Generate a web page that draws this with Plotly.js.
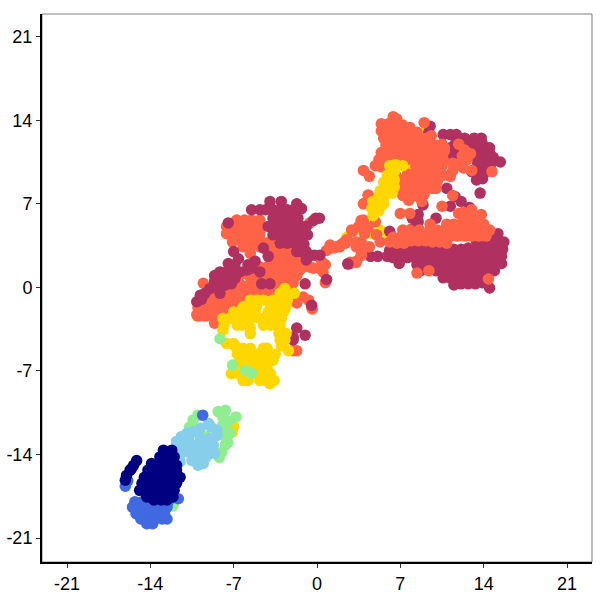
<!DOCTYPE html>
<html>
<head>
<meta charset="utf-8">
<script src="https://cdn.plot.ly/plotly-3.0.1.min.js"></script>
<style>html,body{margin:0;padding:0;background:#fff}#chart{width:600px;height:600px}</style>
</head>
<body>
<div id="chart"></div>
<script>
const tickVals = [-21, -14, -7, 0, 7, 14, 21];

// values, [x, y]
const goldBack = [
  [8.9,12.9],[9.6,11.7],[3.6,4.9],[2.5,4.2],[4.6,4.5],[5.3,4.8],[6,4.4],[7.8,10.2]
];

const maroonBack = [
  [13.2,12.5],[13.8,12.5],[12.4,12.5],[12.7,12],[13.3,12],[13.9,12],[14.5,11.7],[13.2,11.4],[13.8,11.4],[14.5,11.2],
  [13.2,11],[13.8,11],[14.4,11],[14.8,10.9],[13.5,10.4],[14,10.4],[14.6,10.4],[15.4,10.5],[13,9.7],[13.6,9.7],[14.2,9.7],[14.6,9.9],
  [13.4,9],[13.9,9.1],[10.6,12.8],[11.2,12.8],[11.7,12.8],[11.6,12],[11.7,11.2],[11.7,10.5],[11.2,11.7],[10.9,11],[9.5,13.5],[9.4,13],
  [14.6,4.5],[15.2,4.5],[13.4,3.9],[14,3.9],[14.6,3.9],[15.2,3.9],[15.7,3.8],
  [8,3.5],[8.6,3.6],[9.2,3.6],[9.8,3.5],[10.3,3.5],
  [6.1,3.1],[6.7,3.1],[7.3,3],[7.9,3],[8.5,3],[9.1,3],[9.7,3],[10.3,3],[10.9,3.1],[11.5,3.2],[12.1,3.2],[12.7,3.3],[13.3,3.3],[13.9,3.3],[14.5,3.3],[15.1,3.3],[15.6,3.2],
  [4.5,2.6],[5.1,2.6],[5.9,2.6],[6.4,2.5],[7,2.5],[7.6,2.5],[8.2,2.5],[8.8,2.5],[9.4,2.5],[10,2.5],[10.6,2.5],[11.2,2.6],[11.8,2.6],[12.4,2.6],[13,2.6],[13.6,2.6],[14.2,2.6],[14.8,2.6],[15.5,2.6],
  [6.9,2],[8.4,1.9],[9.2,1.9],[9.6,2],[10.2,2],[10.8,2],[11.4,2],[12,2],[12.6,2],[13.2,2],[13.8,2],[14.4,2],[15,2],[15.5,2],
  [8.7,1.4],[10,1.4],[10.6,1.4],[11.2,1.4],[11.8,1.4],[12.4,1.4],[13,1.4],[13.6,1.4],[14.2,1.4],[14.9,1.4],
  [10.6,0.8],[11.2,0.8],[11.8,0.8],[12.4,0.8],[13,0.8],[13.6,0.8],[14.2,0.9],
  [11.5,0.2],[12.1,0.3],[12.7,0.3],[13.3,0.3],[13.9,0.4],[14.5,-0.05],[2.6,2],
  [13.7,7.9],[10.9,8.3],[11.6,7.6],[12.1,7.2],[11.2,6.8],[8.9,6.9],[12.8,6.7],[8.5,6.1],[8,5.8],[10,5.8],[8.5,5.5],[8,4.9],[6.1,4.7],[6.6,4.1]
];

const coralPts = [
  [6.4,14.3],[6.7,14.1],[5.4,13.7],[6,13.7],[6.6,13.7],[7.2,13.6],[7.8,13.4],[9,13.8],
  [5.4,13.1],[6,13.1],[6.6,13.1],[7.2,13.1],[7.8,13],[8.4,13],[5.6,12.5],[6.2,12.5],[6.8,12.5],[7.4,12.5],[8,12.5],[8.6,12.5],[9.2,12.5],[9.6,12.7],
  [5.8,11.9],[6.4,11.9],[7,11.9],[7.6,11.9],[8.2,11.9],[8.8,11.9],[9.4,11.9],[10,11.9],[10.5,12],[10.7,11.7],
  [5.4,11.3],[6,11.3],[6.6,11.3],[7.2,11.3],[7.8,11.3],[8.4,11.3],[9,11.3],[9.6,11.3],[10.2,11.3],[10.7,11.4],
  [5.2,10.7],[5.8,10.7],[6.4,10.7],[7,10.7],[7.6,10.7],[8.2,10.7],[8.8,10.7],[9.4,10.7],[10,10.7],[10.6,10.7],
  [4.9,10.2],[5.4,10.1],[6,10.1],[8.3,10.1],[8.9,10.1],[9.5,10.1],[10.1,10.1],[10.5,10.2],[6.6,9.4],
  [7.6,9.5],[8.2,9.5],[8.8,9.5],[9.4,9.5],[10,9.5],[7,9],[7.6,8.9],[8.5,8.9],[9.1,8.9],[9.7,8.9],[10.1,8.9],
  [7.1,8.3],[7.9,8.3],[8.5,8.3],[9.1,8.3],[9.7,8.3],[10,8.3],[7.2,7.7],[7.6,7.7],[8.3,7.8],[9,7.8],
  [12.4,11.5],[12.9,11.2],[12.2,11],[12.6,10.7],[12,10.4],[11.4,9.8],[12.3,10],[13,9.8],[14.7,9.7],[11.2,9.3],[10.6,9.4],[11.4,10.4],[11.9,12],
  [3.9,9.8],[4.4,9.3],[4.3,7.7],[3.9,7],[4.3,7],[7,6.2],[7.8,6.2],[10.5,6.8],[8.5,7.6],[8.2,7.9],[8.8,7.2],[11.4,7.7],[11.9,6.2],[12.3,6.3],[13,6.5],[13.8,6.1],[7.7,7.3],
  [6.1,3.8],[6.7,3.7],[7.3,3.7],[7.9,3.9],[8.5,3.9],[9.1,3.9],[9.7,3.8],[10.3,3.8],[10.9,3.7],
  [6.4,4.2],[7,4.2],[7.6,4.3],[8.2,4.3],[8.8,4.3],[9.4,4.3],[10,4.3],[10.6,4.3],[11.2,4.3],[11.8,4.3],[12.4,4.3],[13,4.3],[13.6,4.3],[14.2,4.3],
  [7.2,4.8],[7.8,4.8],[8.6,4.8],[9.5,4.8],[10.1,4.8],[10.7,4.8],[11.3,4.8],[11.9,4.8],[12.5,4.8],[13.1,4.8],[13.7,4.8],[14.5,4.8],
  [9.5,5.3],[10.9,5.3],[11.5,5.3],[12.1,5.3],[12.7,5.3],[13.3,5.3],[14,5.3],[12.3,5.9],[12.8,5.9],[13.1,5.9],
  [8.4,1.2],[9.4,1.4],[14.4,0.7],[2.8,2],[3.3,2.1],[3.7,2.7],[3.5,3.4],[2.5,3.9],[3,4.7],[3.7,5.6],[4,4.5],[5,4.4],[4.9,5.5],[4.3,5],[2.4,3.7],[1.9,3.4],[4.4,3.4],[5.3,3.8],
  [4,7.05],[4.3,7.75],[3.9,5.65],[3.5,5.1],[2.9,4.8],[3.3,3.8],[3.7,3.8],[4,3.4],[3.3,3.4],[3.75,2.7],[2.8,2.1],[3.2,2.15],
  [1.1,3.55],[1.65,3.4],[2.2,3.7],[2.5,4],[1.4,3.3],[1.9,3.5],[2.3,3.8],[0.8,3.1],[0.4,2.15],[-0.3,1.6],[0.3,1.6],
  [-6.75,5.65],[-6.1,5.65],[-5.5,5.65],[-4.8,5.65],[-7.6,5.1],[-7,5.1],[-6.4,5.1],[-5.8,5.1],[-5.2,5.1],[-4.8,5.1],
  [-7.6,4.5],[-7,4.5],[-6.4,4.5],[-5.8,4.5],[-5.2,4.5],[-4.8,4.5],[-7.1,3.8],[-6.4,4],[-5.8,4],[-5.2,4],[-4.8,4],[-6.2,3.4],[-5.6,3.4],[-4.8,3.4],[-5.6,2.85],
  [-4,3.8],[-2.3,3.8],[-4.2,3.1],[-3.6,3.1],[-3,3.1],[-2.4,3.1],[-1.7,3.1],[-3.6,2.8],[-3,2.8],[-2.4,2.8],[-1.8,2.8],
  [-3.7,2.4],[-3.1,2.4],[-2.5,2.4],[-1.9,2.4],[-1.3,2.4],[-0.8,2.4],[-3.9,2],[-3.3,2],[-2.7,2],[-2.1,2],[-1.5,2],[-0.9,2],
  [-4.8,1.7],[-4.2,1.7],[-3.6,1.7],[-3,1.7],[-2.4,1.7],[-1.8,1.7],[-1.2,1.7],[-0.6,1.7],[0.7,1.9],[0.5,1.3],
  [-4.5,1.4],[-3.9,1.4],[-3.3,1.4],[-2.7,1.4],[-2.1,1.4],[-1.5,1.4],
  [-5,1],[-4.4,1],[-3.8,1],[-3.2,1],[-2.6,1],[-2,1],[-1.7,1],[-6.4,1.1],[-5.7,1],[-3,0.7],[-2.4,0.7],
  [-5.6,0.35],[-4.8,0.35],[-3.4,0.4],[-2.8,0.4],[-2,0.4],[-6.5,0.3],[-9.55,0.35],[-6,0],[-5,0],[-4.2,0],[-3.6,0],[-2.8,0],[-2.2,0],
  [-8.7,-0.3],[-7,-0.3],[-6.4,-0.3],[-5.8,-0.3],[-5.2,-0.3],[-4.6,-0.3],[-4,-0.3],[-3.4,-0.3],[-8.1,-0.4],[-7.5,-0.4],[-6.6,-0.7],[-6,-0.7],
  [-9.3,-1],[-8.7,-1],[-7.5,-1],[-6.9,-1],[-6.3,-1],[-5.7,-1],[-8.1,-1],
  [-9.6,-1.3],[-9,-1.3],[-8.4,-1.3],[-7.8,-1.3],[-7.2,-1.3],[-6.6,-1.3],
  [-10,-1.7],[-9.4,-1.7],[-8.8,-1.7],[-8.2,-1.7],[-7.6,-1.7],[-7,-1.7],[-9.7,-2],[-9.1,-2],[-8.5,-2],[-7.9,-2],[-7.3,-2.1],
  [-10,-2.4],[-9.4,-2.4],[-8.8,-2.4],[-8.2,-2.4],[-7.8,-2.4],[-10.1,-2.3],[-8.6,-3],
  [-1.7,-0.93],[-1.15,-0.8],[-1.7,-1.3],[-0.7,-1.07],[-0.45,-1.63],[-0.4,-1.8],[-2,-5.3],[-1.7,-5.3],[0.7,0.4],[-0.6,5.4]
];

const maroonFront = [
  [-3.95,7.2],[-3,7.2],[-1.7,7],[-1.3,6.6],[-5.5,6.5],[-4.8,6.5],[-4.3,6.5],[-3.7,6.5],[-3.1,6.5],[-2.5,6.5],[-2,6.5],
  [-3.7,5.8],[-3.1,5.8],[-2.5,5.8],[-1.9,5.8],[-1.6,5.8],[-0.1,5.8],[-0.3,5.6],[0.2,5.8],
  [-4.1,5.1],[-3.7,5.1],[-3.1,5.1],[-2.5,5.1],[-1.9,5.1],[-1.3,5.1],[-0.9,5.1],
  [-3.7,4.4],[-3.1,4.4],[-2.5,4.4],[-1.9,4.4],[-1.3,4.4],[-0.8,4.4],[-3.1,3.7],[-2.5,3.7],[-1.9,3.7],[-1.3,3.7],[-1.1,3.6],
  [-1.7,3],[-1.3,3],[-0.9,3],[-4.5,3.3],[-4.1,2.6],[-7.45,5.4],
  [0.25,2.7],[-0.2,2.7],[-0.9,2.3],[0.8,0.67],[2.6,1.95],
  [-7,3],[-6.6,2.4],[-7.45,2],[-6.9,1.9],[-5.8,1.9],[-5.2,2.2],[-8.15,1.3],[-7.6,1.3],[-7,1.3],[-5.9,1.45],[-5.5,1.6],[-7.7,0.9],[-6.5,1.3],[-7.3,1.8],
  [-8.6,1],[-8,0.75],[-7.45,0.75],[-6.9,0.75],[-4.8,1.3],[-8.3,0.2],[-7.7,0.2],[-7.2,0.3],[-9,-0.1],[-8.15,-0.5],[-8.6,0.5],[-9.4,-0.5],
  [-9.8,-0.65],[-10.1,-1.2],[-9.7,-1],[-4.65,0.3],[-3.95,0.3],[-1,0.3],[-0.45,-1.5],[-1.7,-3.4],[-1,-4],[-2,-4.15],[-2,-4.4]
];

const goldPts = [
  [6.1,10.2],[6.6,10.3],[7.2,10.2],[6.5,9.7],[5.9,9.4],[6.5,9],[5.6,8.8],[6.1,8.6],[6.5,8.4],[5.3,8.1],[5.9,8],[6.3,7.9],[5.2,7.6],
  [5.6,7.5],[4.7,7.2],[5.2,7],[5.6,7],[4.6,6.6],[5.2,6.4],[4.7,6],
  [-2.7,-0.1],[-3.1,-0.5],[-2.5,-0.5],[-1.9,-0.5],
  [-5.6,-1.07],[-5,-1.07],[-4.5,-1.07],[-3.7,-1.07],[-3.1,-1.07],[-2.5,-1.07],
  [-6.2,-1.63],[-5.6,-1.63],[-5.1,-1.63],[-3.9,-1.63],[-3.3,-1.63],[-2.6,-1.63],
  [-7,-2.05],[-6.4,-2.05],[-5.8,-2.05],[-5.2,-2.05],[-4.1,-2.05],[-3.5,-2.05],[-2.8,-2.05],
  [-7.9,-2.6],[-7.3,-2.6],[-6.7,-2.6],[-6.1,-2.6],[-5.5,-2.6],[-4.8,-2.6],[-4.4,-2.6],[-3.8,-2.6],[-3,-2.6],
  [-7.8,-3.17],[-6.7,-3.17],[-6.3,-3.17],[-4.5,-3.17],[-3.9,-3.17],[-3.3,-3.17],[-3.1,-3.2],
  [-5.6,-3.87],[-5.6,-3.4],[-3.2,-3.87],[-2.6,-3.87],[-3.1,-4.43],[-2.7,-4.43],[-7.9,-3.6],
  [-7.6,-4.7],[-7,-4.7],[-6.9,-4.9],[-6.2,-5.1],[-5.6,-5.1],[-4.5,-5.1],[-4.2,-5.1],[-3,-4.9],[-2.4,-5.3],
  [-6.7,-5.55],[-6.1,-5.55],[-5.5,-5.55],[-4.9,-5.55],[-4.3,-5.55],[-3.9,-5.55],[-3.5,-5.6],
  [-6.5,-6.1],[-5.9,-6.1],[-5.3,-6.1],[-4.7,-6.1],[-4.1,-6.1],[-3.7,-6.1],
  [-6.2,-6.67],[-5.6,-6.67],[-5,-6.67],[-4.4,-6.67],[-4.2,-6.67],
  [-7.2,-7.23],[-6.6,-7.23],[-5.5,-7.23],[-4.9,-7.23],[-4.3,-7.23],[-3.9,-7.23],
  [-6.2,-7.8],[-5.8,-7.8],[-4.8,-7.8],[-4.3,-7.8],[-3.9,-7.8],[-3.6,-7.8],[-3.95,-8.07],
  [-7,-11.65],[-7.1,-12.1]
];

const greenPts = [
  [-8.15,-4.3],[-7.1,-6.5],[-6,-6.95],[-5.5,-7.2],[-12.1,-18.3],[-8,-10.55],[-7.9,-10.9],[-8.3,-10.4],[-7.7,-10.3],[-6.8,-10.85],[-10,-10.7],[-10.4,-11.1],[-10.7,-11.7],
  [-7.9,-11.5],[-7.4,-11.2],[-7.7,-12.1],[-7.3,-12.2],[-7.6,-12.65],[-7.7,-13.2],[-7.5,-13],[-8,-13.8],[-8.2,-14.25],[-9.3,-12.5]
];

const skyPts = [
  [-9.1,-11.4],[-9.8,-11.8],[-10.4,-12.1],[-8.4,-11.95],[-11.4,-12.5],[-10.8,-12.65],[-11.5,-13.1],[-11,-13.2],[-10.4,-13.2],[-9.8,-13.2],[-9.3,-13.2],[-8.7,-13.2],
  [-11.4,-13.8],[-10.8,-13.8],[-10.25,-13.8],[-9.7,-13.8],[-9.1,-13.8],[-8.6,-13.9],[-11.5,-14.6],[-10.5,-14.5],[-9.8,-14.2],[-9.3,-14.2],[-10,-14.9],[-9.55,-14.75],
  [-9,-12.65],[-8.4,-12.4],[-11.5,-14.05],[-9.8,-12.65],[-10.9,-12.2],[-8.9,-11.7],[-11.8,-12.9]
];

const royalPts = [
  [-16.1,-16.65],[-15.9,-16.2],[-11.65,-17.7],[-9.6,-10.7],
  [-15.3,-17.95],[-14.7,-17.95],[-14.1,-17.95],[-13.5,-17.95],[-12.9,-17.95],[-12.5,-17.95],
  [-15.5,-18.4],[-15,-18.4],[-14.4,-18.4],[-13.8,-18.4],[-13.2,-18.4],[-12.6,-18.4],
  [-15.2,-18.95],[-14.6,-18.95],[-14,-18.95],[-13.4,-18.95],[-12.8,-18.95],
  [-14.8,-19.4],[-14.2,-19.4],[-13.6,-19.4],[-13,-19.4],[-12.6,-19.4],[-14.3,-19.8],[-13.8,-19.8]
];

const navyPts = [
  [-12.9,-13.63],[-12.2,-13.63],[-13.2,-14.2],[-12.6,-14.2],[-12,-14.2],
  [-13.9,-14.75],[-13.3,-14.75],[-12.7,-14.75],[-12.1,-14.75],[-11.8,-14.9],
  [-14.2,-15.3],[-13.6,-15.3],[-13,-15.3],[-12.4,-15.3],[-11.8,-15.3],
  [-14.5,-15.9],[-13.9,-15.9],[-13.3,-15.9],[-12.7,-15.9],[-12.1,-15.9],[-11.5,-15.9],
  [-14.7,-16.4],[-14.1,-16.4],[-13.5,-16.4],[-12.9,-16.4],[-12.3,-16.4],[-11.8,-16.4],
  [-14.9,-17],[-14.3,-17],[-13.7,-17],[-13.1,-17],[-12.5,-17],[-12,-17],
  [-14.3,-17.55],[-13.7,-17.55],[-13.1,-17.55],[-12.5,-17.55],[-12.1,-17.55],[-13.7,-17.8],[-13.1,-17.8],[-12.6,-17.8],
  [-15.15,-14.5],[-15.4,-14.9],[-15.7,-15.3],[-16,-15.75],[-16.1,-16.15],[-15.6,-15.2]
];

const seriesList = [
  { pts: goldBack, color: "#FFD700" },
  { pts: maroonBack, color: "#B03060" },
  { pts: coralPts, color: "#FF6347" },
  { pts: maroonFront, color: "#B03060" },
  { pts: goldPts, color: "#FFD700" },
  { pts: greenPts, color: "#90EE90" },
  { pts: skyPts, color: "#87CEEB" },
  { pts: royalPts, color: "#4169E1" },
  { pts: navyPts, color: "#000080" },
];

const traces = seriesList.map((s) => ({
  x: s.pts.map((p) => p[0]),
  y: s.pts.map((p) => p[1]),
  type: "scatter",
  mode: "markers",
  marker: { color: s.color, size: 11.5, line: { width: 0 } },
  hoverinfo: "skip",
}));

function axisStyle(range) {
  return {
    range: range,
    tickmode: "array",
    tickvals: tickVals,
    ticktext: tickVals.map(String),
    ticks: "outside",
    ticklen: 4,
    tickwidth: 1,
    tickcolor: "#333333",
    showgrid: false,
    zeroline: false,
    showline: true,
    linecolor: "#000000",
    linewidth: 2,
    tickfont: { family: "Liberation Sans, Arial, sans-serif", size: 18, color: "#000000" },
  };
}

const layout = {
  width: 600,
  height: 600,
  margin: { l: 42, r: 8, t: 14, b: 38 },
  paper_bgcolor: "#ffffff",
  plot_bgcolor: "#ffffff",
  showlegend: false,
  xaxis: axisStyle([-23.1, 23.1]),
  yaxis: axisStyle([-23, 22.9]),
  shapes: [
    {
      type: "rect", xref: "paper", yref: "paper", x0: 0, x1: 1, y0: 0, y1: 1,
      line: { color: "#7f7f7f", width: 1 }, layer: "below",
    },
  ],
};

Plotly.newPlot("chart", traces, layout, { displayModeBar: false, responsive: false });
</script>
</body>
</html>
